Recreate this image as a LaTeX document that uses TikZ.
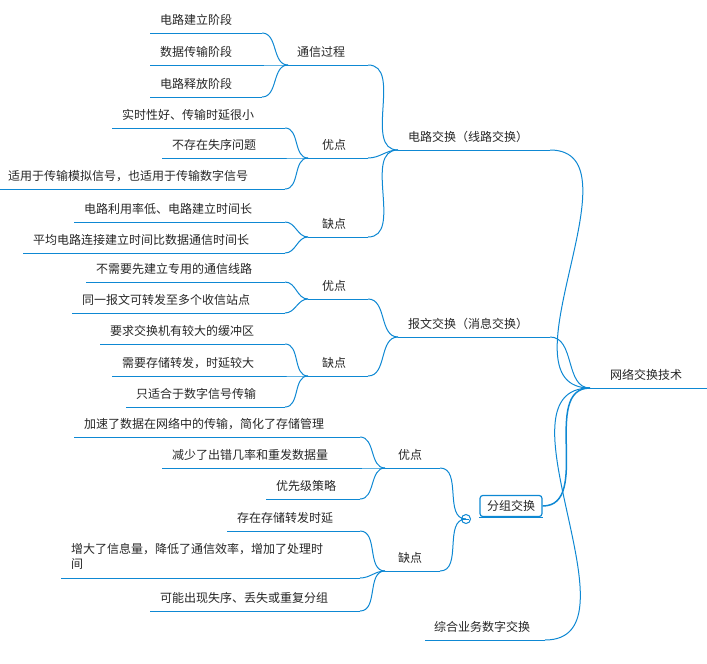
\documentclass[tikz,border=0pt]{standalone}
\usepackage{fontspec}
\setmainfont{Noto Sans CJK SC}
\begin{document}
\begin{tikzpicture}[x=1pt,y=-1pt,
 txt/.style={inner sep=0pt,font=\fontsize{12}{15}\selectfont,text=black!85},
 ln/.style={draw=cyan!70!blue,line width=1pt},
 lnb/.style={draw=cyan!70!blue,line width=1.5pt}]
\useasboundingbox (0,0) rectangle (707,664);
\newcommand\tn[6]{%
 \node[txt,anchor=west] (#1) at (#3,#4) {#2};
 \coordinate (#1-l) at (#5,#4+13); \coordinate (#1-r) at (#6,#4+13);
 \draw[ln] (#1-l) -- (#1-r);}
\newcommand\cn[2]{\draw[ln] (#1-r) to[out=0,in=180] (#2-l);}
% root
\tn{root}{网络交换技术}{610}{375}{590}{707}
% level 1
\tn{dl}{电路交换（线路交换）}{408}{137}{398}{550}
\tn{bw}{报文交换（消息交换）}{408}{324}{398}{550}
\node[txt,draw=cyan!70!blue,line width=1.2pt,rounded corners=3pt,inner xsep=7pt,inner ysep=5pt] (fz) at (511,506) {分组交换};
\coordinate (fz-l) at (fz.west); \coordinate (fz-r) at (fz.east);
\draw[ln] (fz.south west) -- (fz.south east);
\tn{zh}{综合业务数字交换}{434}{627}{425}{545}
\cn{dl}{root}\cn{bw}{root}\cn{zh}{root}
\draw[lnb] (fz-r) to[out=0,in=180] (root-l);
\draw[ln,fill=white] (466,519) circle (4.5) ; \draw[ln,line width=0.6pt] (463,519) -- (469,519);
% level 2
\tn{tx}{通信过程}{297}{52}{288}{368}
\tn{y1}{优点}{322}{145}{308}{368}
\tn{q1}{缺点}{322}{224}{308}{368}
\tn{y2}{优点}{322}{286}{308}{368}
\tn{q2}{缺点}{322}{363}{308}{368}
\tn{y3}{优点}{398}{455}{385}{440}
\tn{q3}{缺点}{398}{558}{385}{440}
\cn{tx}{dl}\cn{y1}{dl}\cn{q1}{dl}\cn{y2}{bw}\cn{q2}{bw}
\draw[ln] (y3-r) to[out=0,in=180] (466,519);
\draw[ln] (q3-r) to[out=0,in=180] (466,519);
% leaves
\tn{a1}{电路建立阶段}{160}{20}{150}{262}
\tn{a2}{数据传输阶段}{160}{52}{150}{262}
\tn{a3}{电路释放阶段}{160}{84}{150}{262}
\cn{a1}{tx}\cn{a2}{tx}\cn{a3}{tx}
\tn{b1}{实时性好、传输时延很小}{122}{115}{112}{285}
\tn{b2}{不存在失序问题}{172}{145}{162}{285}
\tn{b3}{适用于传输模拟信号，也适用于传输数字信号}{8}{176}{0}{285}
\cn{b1}{y1}\cn{b2}{y1}\cn{b3}{y1}
\tn{c1}{电路利用率低、电路建立时间长}{84}{209}{74}{285}
\tn{c2}{平均电路连接建立时间比数据通信时间长}{33}{240}{23}{285}
\cn{c1}{q1}\cn{c2}{q1}
\tn{d1}{不需要先建立专用的通信线路}{96}{269}{86}{285}
\tn{d2}{同一报文可转发至多个收信站点}{82}{300}{72}{285}
\cn{d1}{y2}\cn{d2}{y2}
\tn{e1}{要求交换机有较大的缓冲区}{110}{331}{100}{285}
\tn{e2}{需要存储转发，时延较大}{122}{363}{112}{285}
\tn{e3}{只适合于数字信号传输}{136}{394}{126}{285}
\cn{e1}{q2}\cn{e2}{q2}\cn{e3}{q2}
\tn{f1}{加速了数据在网络中的传输，简化了存储管理}{84}{424}{74}{360}
\tn{f2}{减少了出错几率和重发数据量}{172}{455}{162}{360}
\tn{f3}{优先级策略}{276}{486}{266}{360}
\cn{f1}{y3}\cn{f2}{y3}\cn{f3}{y3}
\tn{g1}{存在存储转发时延}{237}{518}{227}{360}
\node[txt,anchor=west,align=left] (g2) at (71,556) {增大了信息量，降低了通信效率，增加了处理时\\间};
\coordinate (g2-l) at (61,578); \coordinate (g2-r) at (360,578);
\draw[ln] (g2-l) -- (g2-r);
\tn{g3}{可能出现失序、丢失或重复分组}{160}{598}{150}{360}
\cn{g1}{q3}\cn{g2}{q3}\cn{g3}{q3}
\end{tikzpicture}
\end{document}
